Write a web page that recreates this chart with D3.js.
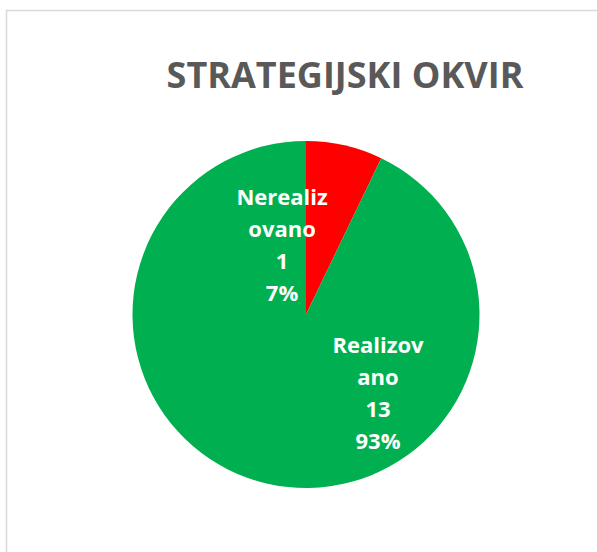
<!DOCTYPE html>
<html>
<head>
<meta charset="utf-8">
<script src="https://cdn.jsdelivr.net/npm/d3@7"></script>
<style>
  body { margin: 0; background: #fff; }
  svg { display: block; }
</style>
</head>
<body>
<svg id="chart" width="597" height="552"></svg>
<script>
// data
var categories = ["Nerealizovano", "Realizovano"];
var values = [1, 13];
var percentLabels = ["7%", "93%"];
var labelLines = [["Nerealiz", "ovano"], ["Realizov", "ano"]];
var colors = ["#ff0000", "#00b050"];

var svg = d3.select("#chart");
var font = "'Open Sans', Carlito, Calibri, Arial, sans-serif";

// chart area border
svg.append("rect")
    .attr("x", 6.5).attr("y", 10.5)
    .attr("width", 600).attr("height", 560)
    .attr("fill", "#fff")
    .attr("stroke", "#d9d9d9")
    .attr("stroke-width", 1.5);

svg.append("text")
    .attr("x", 345).attr("y", 88)
    .attr("text-anchor", "middle")
    .attr("font-family", font)
    .attr("font-weight", "bold")
    .attr("font-size", 36)
    .attr("fill", "#595959")
    .text("STRATEGIJSKI OKVIR");

var cx = 306, cy = 314.5, r = 173.5;

var pie = d3.pie().sort(null).value(function(d) { return d; });
var arc = d3.arc().innerRadius(0).outerRadius(r);
var arcs = pie(values);

var g = svg.append("g").attr("transform", "translate(" + cx + "," + cy + ")");

g.selectAll("path")
    .data(arcs)
    .enter()
    .append("path")
    .attr("d", arc)
    .attr("fill", function(d, i) { return colors[i]; });

// label anchors (first baseline), in units of radius - excel put them off-centroid
var labelPos = [[-0.138, -0.631], [0.415, 0.222]];
var lineH = 32;

arcs.forEach(function(a, i) {
  var lines = labelLines[i].concat([String(values[i]), percentLabels[i]]);
  var t = g.append("text")
      .attr("text-anchor", "middle")
      .attr("font-family", font)
      .attr("font-weight", "bold")
      .attr("font-size", 22)
      .attr("fill", "#fff");
  lines.forEach(function(s, k) {
    t.append("tspan")
        .attr("x", labelPos[i][0] * r)
        .attr("y", labelPos[i][1] * r + k * lineH)
        .text(s);
  });
});
</script>
</body>
</html>
